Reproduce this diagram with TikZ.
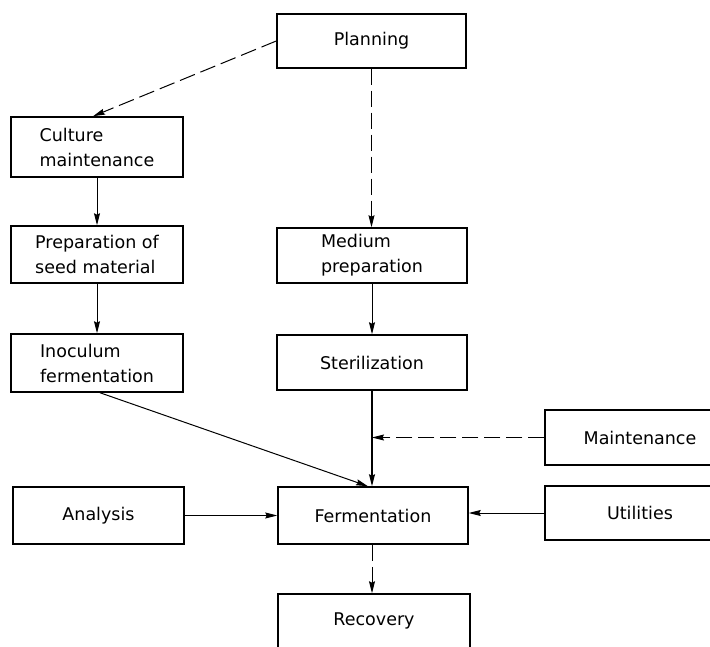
\documentclass[tikz,border=0pt]{standalone}
\usepackage{fontspec}
\setmainfont{DejaVu Sans}
\usetikzlibrary{arrows.meta}
\begin{document}
\begin{tikzpicture}[x=1pt,y=-1pt,
  box/.style={draw, line width=1.5pt, inner sep=0pt, align=left,
    font=\fontsize{17.5}{25}\selectfont},
  conn/.style={line width=1pt, -{Stealth[length=12pt,width=6pt,inset=1.5pt]}},
  dsh/.style={conn, dash pattern=on 16pt off 6pt}]
\clip (0,0) rectangle (710,647);
\node[box, minimum width=189pt, minimum height=54pt] (plan) at (371.5,41) {Planning};
\node[box, minimum width=172pt, minimum height=60pt] (cult) at (97,147) {Culture\\maintenance};
\node[box, minimum width=172pt, minimum height=57pt] (prep) at (97,254.5) {Preparation of\\seed material};
\node[box, minimum width=172pt, minimum height=58pt] (inoc) at (97,363) {Inoculum\\fermentation};
\node[box, minimum width=190pt, minimum height=55pt] (med) at (372,255.5) {Medium\\preparation};
\node[box, minimum width=190pt, minimum height=55pt] (ster) at (372,362.5) {Sterilization};
\node[box, minimum width=190pt, minimum height=55pt] (maint) at (640,437.5) {Maintenance};
\node[box, minimum width=190pt, minimum height=54pt] (util) at (640,513) {Utilities};
\node[box, minimum width=171pt, minimum height=57pt] (anal) at (98.5,515.5) {Analysis};
\node[box, minimum width=190pt, minimum height=57pt] (ferm) at (373,515.5) {Fermentation};
\node[box, minimum width=192pt, minimum height=54pt] (rec) at (374,621) {Recovery};
\coordinate (mj) at (ster.south |- maint.west);
\draw[dsh] (plan.west) -- ([xshift=-4pt]cult.north);
\draw[conn] (cult.south) -- (prep.north);
\draw[conn] (prep.south) -- (inoc.north);
\draw[dsh] (plan.south) -- (plan.south |- med.north);
\draw[conn] (med.south) -- (ster.north);
\draw[conn, line width=1.3pt] (ster.south) -- (ster.south |- ferm.north);
\draw[dsh] (maint.west) -- (mj);
\draw[conn] ([xshift=3pt]inoc.south) -- ([xshift=-5pt]ferm.north);
\draw[conn] (anal.east) -- (ferm.west);
\draw[conn] (util.west) -- (util.west -| ferm.east);
\draw[dsh] (ster.south |- ferm.south) -- (ster.south |- rec.north);
\end{tikzpicture}
\end{document}
